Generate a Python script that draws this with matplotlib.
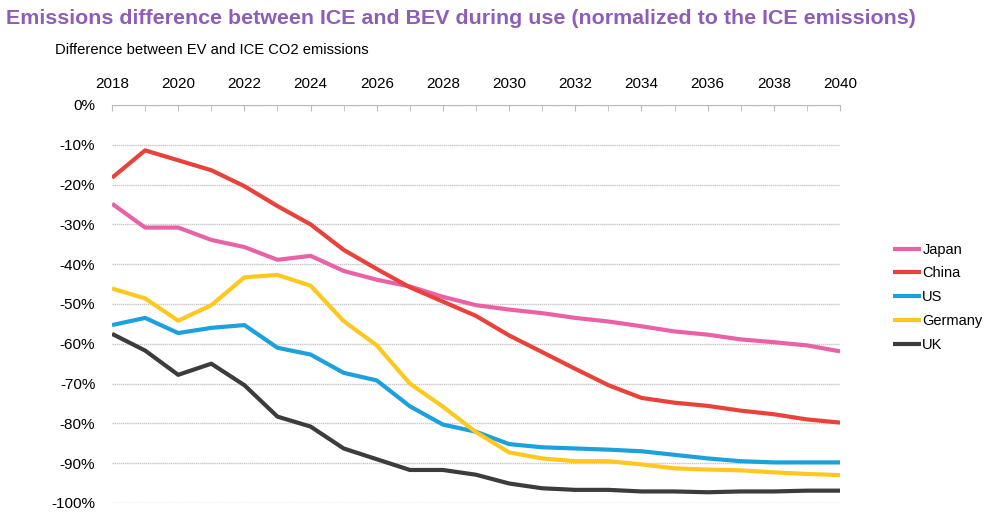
import numpy as np
import matplotlib.pyplot as plt
from matplotlib.ticker import FuncFormatter

plt.rcParams['font.family'] = ['Liberation Sans', 'DejaVu Sans']

years = list(range(2018, 2041))

japan = [-24.8, -30.8, -30.8, -33.9, -35.7, -38.9, -37.9, -41.7, -43.9, -45.6, -48.2, -50.3,
         -51.4, -52.3, -53.5, -54.4, -55.6, -56.9, -57.7, -58.9, -59.6, -60.4, -61.9]
china = [-18.3, -11.4, -13.9, -16.4, -20.4, -25.4, -30.0, -36.4, -41.2, -45.8, -49.4, -53.0,
         -57.9, -62.1, -66.3, -70.4, -73.6, -74.8, -75.6, -76.8, -77.7, -79.0, -79.8]
us = [-55.3, -53.5, -57.3, -56.0, -55.3, -61.0, -62.7, -67.3, -69.2, -75.7, -80.3, -82.1,
      -85.2, -86.0, -86.3, -86.6, -87.0, -87.9, -88.8, -89.5, -89.8, -89.8, -89.8]
germany = [-46.1, -48.6, -54.2, -50.3, -43.3, -42.7, -45.4, -54.3, -60.4, -70.0, -75.8, -82.2,
           -87.3, -88.8, -89.5, -89.5, -90.3, -91.3, -91.6, -91.8, -92.3, -92.7, -93.0]
uk = [-57.5, -61.7, -67.8, -65.0, -70.4, -78.3, -80.8, -86.3, -89.0, -91.7, -91.7, -92.9,
      -95.1, -96.3, -96.7, -96.7, -97.1, -97.1, -97.3, -97.1, -97.1, -96.9, -96.9]

series = [('Japan', japan, '#E962A8'), ('China', china, '#E9423A'), ('US', us, '#1CA1DC'),
          ('Germany', germany, '#FFC81E'), ('UK', uk, '#3C3C3C')]

fig = plt.figure(figsize=(9.94, 5.22), dpi=100)
ax = fig.add_axes([0.1127, 0.0364, 0.7324, 0.7625])

for name, vals, col in series:
    ax.plot(years, vals, color=col, lw=3, label=name, solid_capstyle='butt')

ax.set_xlim(2018, 2040)
ax.set_ylim(-100, 0)
ax.set_xticks(range(2018, 2041, 2))
ax.set_xticks(range(2018, 2041), minor=True)
ax.set_yticks(range(-100, 1, 10))
ax.yaxis.set_major_formatter(FuncFormatter(lambda v, p: f'{int(v)}%'))
ax.xaxis.tick_top()
ax.tick_params(axis='x', which='both', direction='in', length=4, color='#bbbbbb',
               labelsize=11, pad=10)
ax.tick_params(axis='y', length=0, labelsize=11, pad=12)
ax.grid(axis='y', color='#c8c8c8', lw=1, ls=(0, (1, 0.5)))
for s in ['left', 'right', 'bottom']:
    ax.spines[s].set_visible(False)
ax.spines['top'].set_color('#bbbbbb')
ax.set_axisbelow(True)

ax.legend(loc='center left', bbox_to_anchor=(1.055, 0.517), frameon=False, fontsize=10.5,
          handlelength=1.9, handletextpad=0.1, labelspacing=0.67)

fig.text(0.006, 0.965, 'Emissions difference between ICE and BEV during use (normalized to the ICE emissions)',
         color='#8F5DB7', fontsize=15.4, fontweight='bold', va='center')
fig.text(0.055, 0.904, 'Difference between EV and ICE CO2 emissions', fontsize=10.6, va='center')

fig.savefig('out.png', dpi=100)
